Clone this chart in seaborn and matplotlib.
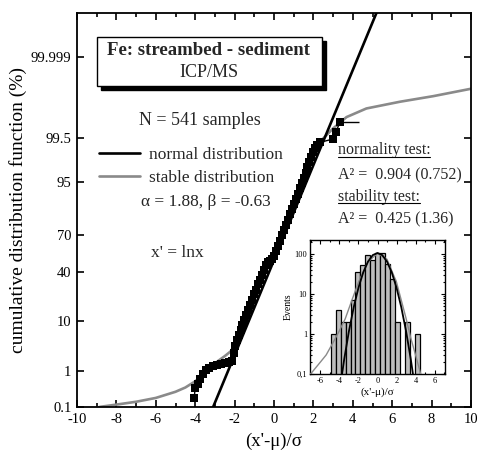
import matplotlib
matplotlib.use("Agg")
import matplotlib.pyplot as plt
import seaborn as sns
import numpy as np
from statistics import NormalDist
from matplotlib.ticker import MultipleLocator, FixedLocator, NullLocator, FixedFormatter, LogLocator
from matplotlib.patches import Rectangle
from matplotlib.lines import Line2D

# ---------------- data ----------------
# empirical cumulative distribution (x' - mu)/sigma vs cumulative %
data_x = [-4.05, -4.0, -3.85, -3.75, -3.6, -3.45, -3.3, -3.1, -2.9, -2.7, -2.5, -2.3,
          -2.15, -2.05, -2.0, -1.9, -1.8, -1.7, -1.6, -1.5, -1.4, -1.3, -1.2, -1.1,
          -1.0, -0.9, -0.8, -0.7, -0.6, -0.5, -0.4, -0.3, -0.2, -0.1, 0.0, 0.1, 0.2,
          0.3, 0.4, 0.5, 0.6, 0.7, 0.8, 0.9, 1.0, 1.1, 1.2, 1.3, 1.4, 1.5, 1.6, 1.7,
          1.8, 1.9, 2.0, 2.1, 2.2, 2.35, 3.0, 3.15, 3.35]
data_p = [0.187, 0.368, 0.466, 0.621, 0.820, 1.017, 1.160, 1.321, 1.390, 1.426, 1.500, 1.578,
          1.700, 2.559, 3.593, 4.551, 5.705, 7.078, 8.534, 10.38, 12.51, 14.92, 17.36, 20.33,
          23.58, 26.76, 30.50, 34.09, 37.83, 41.68, 46.02, 48.01, 49.20, 50.80, 53.19, 57.53, 61.79,
          65.91, 69.85, 73.57, 77.04, 80.23, 83.15, 85.77, 88.10, 90.15, 91.92, 93.45, 94.74, 95.82, 96.71, 97.44,
          98.03, 98.50, 98.87, 99.09, 99.22, 99.34, 99.46, 99.65, 99.82]
last_xerr = 0.95

# fitted normal distribution (straight line on probability scale)
normal_x = [-3.2, 5.3]
normal_p = [0.0687, 99.9999942]

# fitted stable distribution (alpha = 1.88, beta = -0.63)
stable_x = [-9.0, -8.8, -8.0, -7.0, -6.0, -5.0, -4.5, -4.0, -3.5, -3.0, -2.5, -2.2, -2.0,
            -1.5, -1.0, -0.5, 0.0, 0.5, 1.0, 1.5, 2.0, 2.24, 3.0, 3.68, 4.69, 6.4, 8.09, 10.12]
stable_p = [0.095, 0.1018, 0.1183, 0.1441, 0.187, 0.2803, 0.368, 0.5386, 0.9137, 1.500, 2.169, 2.743, 3.754,
            10.03, 22.36, 40.52, 51.99, 72.57, 87.49, 95.35, 98.50, 99.29, 99.72, 99.869, 99.929, 99.957, 99.972, 99.985]

# inset histogram
hist_centers = [-4.66, -4.14, -3.62, -3.10, -2.58, -2.06, -1.54, -1.02, -0.50, 0.02, 0.54,
                1.06, 1.58, 2.10, 2.62, 3.14, 3.66, 4.18]
hist_counts = [1, 4, 2, 2, 7, 36, 55, 95, 72, 105, 105, 58, 24, 2, 0, 2, 0, 1]
hist_width = 0.52

inset_normal_x = [-4.0, -3.5, -3.0, -2.5, -2.0, -1.5, -1.0, -0.5, 0.0, 0.5, 1.0, 1.5, 2.0, 2.5, 3.0, 3.5, 4.0]
inset_normal_y = [0.036, 0.236, 1.20, 4.73, 14.6, 35.1, 65.5, 95.3, 108, 95.3, 65.5, 35.1, 14.6, 4.73, 1.20, 0.236, 0.036]
inset_stable_x = [-7.2, -6.0, -5.4, -4.7, -4.1, -3.4, -2.7, -2.0, -1.0, 0.0, 1.0, 2.0, 3.0, 3.5, 4.0, 4.6]
inset_stable_y = [0.09, 0.2, 0.3, 0.6, 1.1, 2.4, 7.0, 20, 65, 105, 75, 20, 2.5, 0.8, 0.3, 0.09]

y_ticks = [0.1, 1, 10, 40, 70, 95, 99.5, 99.999]
y_ticklabels = ["0.1", "1", "10", "40", "70", "95", "99.5", "99.999"]
x_ticks = [-10, -8, -6, -4, -2, 0, 2, 4, 6, 8, 10]
inset_xticks = [-6, -4, -2, 0, 2, 4, 6]
inset_yticks = [0.1, 1, 10, 100]
inset_yticklabels = ["0,1", "1", "10", "100"]

# ---------------- style ----------------
sns.set_theme(style="ticks")
plt.rcParams['font.family'] = ['Liberation Serif', 'DejaVu Serif']
plt.rcParams['axes.unicode_minus'] = False
plt.rcParams['axes.edgecolor'] = 'black'
plt.rcParams['xtick.color'] = 'black'
plt.rcParams['ytick.color'] = 'black'

GRAY = '#8a8a8a'
BAR = '#bdbdbd'

nd = NormalDist()
_ppf = np.vectorize(nd.inv_cdf, otypes=[float])
_cdf = np.vectorize(nd.cdf, otypes=[float])


def fwd(p):
    p = np.clip(np.asarray(p, dtype=float) / 100.0, 1e-15, 1 - 1e-15)
    return _ppf(p)


def inv(z):
    return _cdf(np.asarray(z, dtype=float)) * 100.0


W, H = 478, 455
fig = plt.figure(figsize=(W / 100, H / 100), dpi=100)
fig.patch.set_facecolor('white')
ax = fig.add_axes([77 / W, 48 / H, 394 / W, 394 / H])
ax.set_facecolor('white')
ax.set_yscale('function', functions=(fwd, inv))
ax.set_xlim(-10, 10)
ax.set_ylim(0.1, 99.99999)

# normal distribution line
sns.lineplot(x=normal_x, y=normal_p, ax=ax, color='black', lw=1.9, sort=False,
             estimator=None, zorder=3, label='normal distribution')
# stable distribution (beneath the data band)
sns.lineplot(x=stable_x, y=stable_p, ax=ax, color=GRAY, lw=1.9, sort=False,
             estimator=None, zorder=2.5, label='stable distribution')
# data
sns.lineplot(x=data_x, y=data_p, ax=ax, color='black', lw=1.0, sort=False, estimator=None,
             marker='s', markersize=6, markeredgewidth=0, zorder=4, legend=False)
ax.errorbar([data_x[-1]], [data_p[-1]], xerr=[[0], [last_xerr]], fmt='none',
            ecolor='black', elinewidth=1.0, capsize=0, zorder=4)

ax.xaxis.set_major_locator(FixedLocator(x_ticks))
ax.xaxis.set_minor_locator(MultipleLocator(1))
ax.yaxis.set_major_locator(FixedLocator(y_ticks))
ax.yaxis.set_major_formatter(FixedFormatter(y_ticklabels))
ax.yaxis.set_minor_locator(NullLocator())
ax.set_xticklabels([str(v) for v in x_ticks])
ax.tick_params(which='both', direction='in', top=True, right=True, labelsize=10.5,
               width=1.2, colors='black', pad=4)
ax.tick_params(which='major', length=5)
ax.tick_params(which='minor', length=3)
for s in ax.spines.values():
    s.set_linewidth(1.3)
    s.set_color('black')

ax.set_xlabel("(x'-\u03bc)/\u03c3", fontsize=13.5, labelpad=5, color='black')
ax.set_ylabel("cumulative distribution function (%)", fontsize=14, labelpad=3, color='black')

leg = ax.legend(loc='upper left', bbox_to_anchor=(0.055, 0.66), frameon=False,
                fontsize=12.5, handlelength=2.4, handletextpad=0.5, labelspacing=0.4,
                borderpad=0, borderaxespad=0)

# title box with shadow
bx, by, bw, bh = 0.051, 0.815, 0.571, 0.124
off = 0.011
ax.add_patch(Rectangle((bx + off, by - off), bw, bh, transform=ax.transAxes,
                       facecolor='black', edgecolor='black', zorder=6))
ax.add_patch(Rectangle((bx, by), bw, bh, transform=ax.transAxes,
                       facecolor='white', edgecolor='black', lw=1.0, zorder=7))
ax.text(0.335, 0.904, "Fe: streambed - sediment", transform=ax.transAxes, ha='center',
        va='center', fontsize=13.5, fontweight='bold', zorder=8)
ax.text(0.335, 0.848, "ICP/MS", transform=ax.transAxes, ha='center', va='center',
        fontsize=13, zorder=8)

ax.text(0.312, 0.726, "N = 541 samples", transform=ax.transAxes, ha='center', va='center', fontsize=13)
ax.text(0.327, 0.520, "\u03b1 = 1.88, \u03b2 = -0.63", transform=ax.transAxes, ha='center',
        va='center', fontsize=12.5)
ax.text(0.254, 0.391, "x' = lnx", transform=ax.transAxes, ha='center', va='center', fontsize=12.5)

t1 = ax.text(0.662, 0.652, "normality test:", transform=ax.transAxes, ha='left', va='center', fontsize=11.5)
ax.text(0.662, 0.589, "A\u00b2 =  0.904 (0.752)", transform=ax.transAxes, ha='left', va='center', fontsize=11.5)
t2 = ax.text(0.662, 0.533, "stability test:", transform=ax.transAxes, ha='left', va='center', fontsize=11.5)
ax.text(0.662, 0.475, "A\u00b2 =  0.425 (1.36)", transform=ax.transAxes, ha='left', va='center', fontsize=11.5)

# ---------------- inset ----------------
axi = fig.add_axes([310 / W, (H - 374) / H, 135 / W, 134 / H])
axi.set_facecolor('white')
edges = [c - hist_width / 2 for c in hist_centers] + [hist_centers[-1] + hist_width / 2]
sns.histplot(x=hist_centers, weights=hist_counts, bins=edges, ax=axi, color=BAR,
             edgecolor='black', linewidth=0.9, alpha=1, zorder=2)
for p in axi.patches:
    if p.get_height() <= 0:
        p.set_visible(False)
axi.set_yscale('log')
sns.lineplot(x=inset_stable_x, y=inset_stable_y, ax=axi, color=GRAY, lw=1.0, sort=False,
             estimator=None, zorder=3)
sns.lineplot(x=inset_normal_x, y=inset_normal_y, ax=axi, color='black', lw=1.3, sort=False,
             estimator=None, zorder=4)
axi.set_xlim(-7.1, 7.1)
axi.set_ylim(0.1, 228)
axi.xaxis.set_major_locator(FixedLocator(inset_xticks))
axi.xaxis.set_minor_locator(MultipleLocator(1))
axi.set_xticklabels([str(v) for v in inset_xticks])
axi.yaxis.set_major_locator(FixedLocator(inset_yticks))
axi.yaxis.set_major_formatter(FixedFormatter(inset_yticklabels))
axi.yaxis.set_minor_locator(LogLocator(base=10, subs=np.arange(2, 10)))
axi.yaxis.set_minor_formatter(FixedFormatter([]))
axi.tick_params(which='both', direction='in', top=True, right=True, labelsize=6,
                width=0.8, colors='black', pad=2)
axi.tick_params(which='major', length=3)
axi.tick_params(which='minor', length=1.5)
for s in axi.spines.values():
    s.set_linewidth(1.0)
    s.set_color('black')
axi.set_xlabel("(x'-\u03bc)/\u03c3", fontsize=8, labelpad=2, color='black')
axi.set_ylabel("Events", fontsize=7, labelpad=1, color='black')

# underline the test headings
fig.canvas.draw()
r = fig.canvas.get_renderer()
for t in (t1, t2):
    bb = t.get_window_extent(renderer=r)
    yline = bb.y0 + 1.5
    fig.add_artist(Line2D([bb.x0 / W, bb.x1 / W], [yline / H, yline / H],
                          transform=fig.transFigure, color='black', lw=0.8))

fig.savefig("out.png", dpi=100, facecolor='white')
